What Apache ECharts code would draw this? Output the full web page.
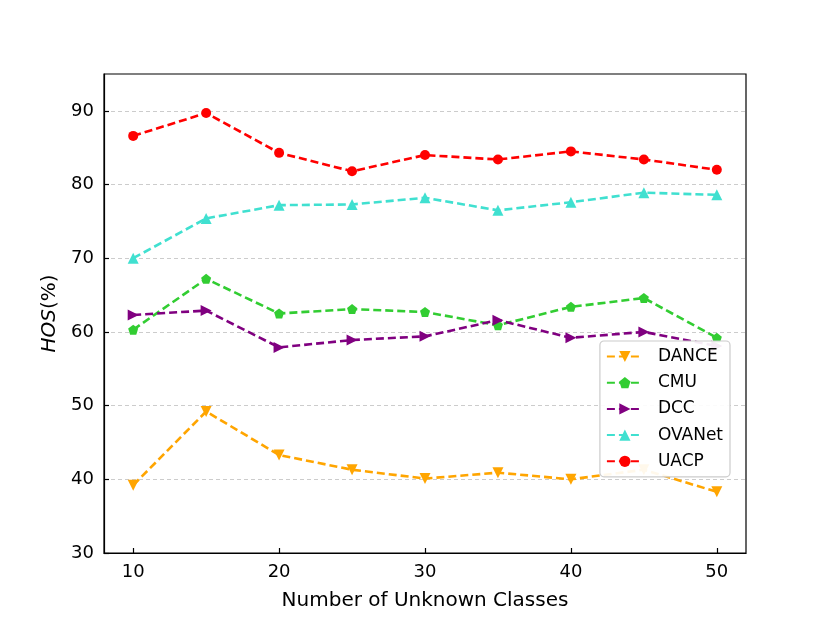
<!DOCTYPE html>
<html>
<head>
<meta charset="utf-8">
<script src="https://cdn.jsdelivr.net/npm/echarts@6/dist/echarts.min.js"></script>
<style>html,body{margin:0;padding:0;background:#fff;}#c{width:830px;height:622px;}</style>
</head>
<body>
<div id="c"></div>
<script>
const xValues = [10, 15, 20, 25, 30, 35, 40, 45, 50];
const danceValues = [39.2, 49.2, 43.3, 41.3, 40.1, 40.9, 40.0, 41.3, 38.3];
const cmuValues = [60.3, 67.2, 62.5, 63.1, 62.7, 60.9, 63.4, 64.6, 59.2];
const dccValues = [62.3, 62.9, 57.9, 58.9, 59.4, 61.6, 59.2, 60.0, 58.1];
const ovanetValues = [70.0, 75.4, 77.2, 77.3, 78.2, 76.5, 77.6, 78.9, 78.6];
const uacpValues = [86.6, 89.7, 84.3, 81.8, 84.0, 83.4, 84.5, 83.4, 82.0];
const xTicks = [10, 20, 30, 40, 50];
const yTicks = [30, 40, 50, 60, 70, 80, 90];

const pentagon = 'path://M0,-1 L0.951,-0.309 L0.588,0.809 L-0.588,0.809 L-0.951,-0.309 Z';
function mk(name, vals, color, symbol, rot, size) {
  return {
    name: name, type: 'line',
    data: xValues.map((x, i) => [x, vals[i]]),
    symbol: symbol, symbolSize: size, symbolRotate: rot,
    showSymbol: true,
    lineStyle: {color: color, width: 2.6, type: [8, 4]},
    itemStyle: {color: color, borderWidth: 0},
    emphasis: {disabled: true},
    z: 3
  };
}
const chart = echarts.init(document.getElementById('c'), null, {renderer: 'canvas'});
chart.setOption({
  animation: false,
  backgroundColor: '#fff',
  textStyle: {fontFamily: 'DejaVu Sans'},
  grid: {left: 104, top: 74, width: 642, height: 479, show: true, borderColor: '#000', borderWidth: 1.2, backgroundColor: 'transparent'},
  legend: {
    orient: 'vertical', right: 100, top: 341,
    backgroundColor: 'rgba(255,255,255,0.92)',
    borderColor: '#cccccc', borderWidth: 1.2, borderRadius: 4,
    padding: [7, 7, 7, 6],
    itemWidth: 36, itemHeight: 14, itemGap: 9.2,
    textStyle: {fontSize: 17, color: '#000', fontFamily: 'DejaVu Sans', padding: [0, 0, 0, 10]},
    data: ['DANCE', 'CMU', 'DCC', 'OVANet', 'UACP']
  },
  xAxis: {
    type: 'value', min: 8, max: 52,
    name: 'Number of Unknown Classes', nameLocation: 'middle', nameGap: 38,
    nameTextStyle: {fontSize: 20, color: '#000'},
    axisLine: {show: true, onZero: false, lineStyle: {color: '#000', width: 1.2}},
    axisTick: {show: true, inside: true, length: 5, customValues: xTicks, lineStyle: {color: '#000', width: 1.2}},
    axisLabel: {customValues: xTicks, fontSize: 18, color: '#000', margin: 10},
    splitLine: {show: false}
  },
  yAxis: {
    type: 'value', min: 30, max: 95,
    name: '{i|HOS}(%)', nameLocation: 'middle', nameGap: 44,
    nameTextStyle: {fontSize: 20, color: '#000', rich: {i: {fontSize: 20, fontStyle: 'italic', color: '#000'}}},
    axisLine: {show: true, onZero: false, lineStyle: {color: '#000', width: 1.2}},
    axisTick: {show: true, inside: true, length: 5, customValues: yTicks, lineStyle: {color: '#000', width: 1.2}},
    axisLabel: {customValues: yTicks, fontSize: 18, color: '#000', margin: 10},
    interval: 10,
    splitLine: {show: true, lineStyle: {color: '#cccccc', width: 1, type: [4, 3]}}
  },
  series: [
    mk('DANCE', danceValues, '#FFA500', 'triangle', 180, 11),
    mk('CMU', cmuValues, '#32CD32', pentagon, 0, 10),
    mk('DCC', dccValues, '#800080', 'triangle', -90, 11),
    mk('OVANet', ovanetValues, '#40E0D0', 'triangle', 0, 11),
    mk('UACP', uacpValues, '#FF0000', 'circle', 0, 10)
  ]
});
</script>
</body>
</html>
